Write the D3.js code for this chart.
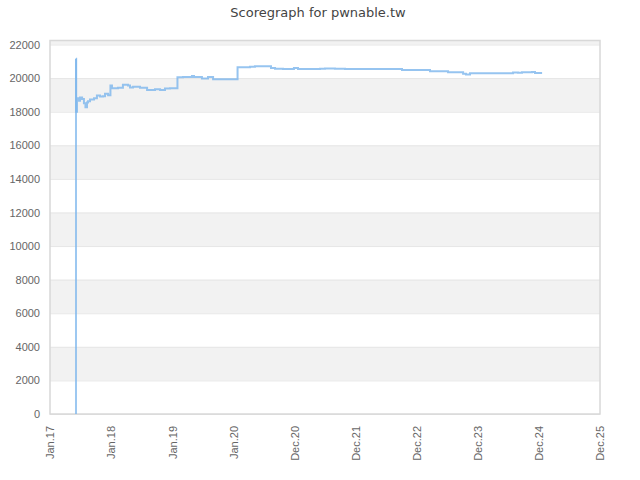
<!DOCTYPE html>
<html><head><meta charset="utf-8">
<script src="https://cdn.jsdelivr.net/npm/d3@7/dist/d3.min.js"></script>
<style>body{margin:0;background:#fff} svg{display:block;font-family:"DejaVu Sans",sans-serif}</style>
</head><body><svg id="c" width="640" height="480"></svg>
<script>
const chartTitle = "Scoregraph for pwnable.tw";
const xTickLabels = ["Jan.17","Jan.18","Jan.19","Jan.20","Dec.20","Dec.21","Dec.22","Dec.23","Dec.24","Dec.25"];
const xDomainDates = ["2017-01-10","2025-12-12"];
const yTickValues = [0,2000,4000,6000,8000,10000,12000,14000,16000,18000,20000,22000];
const yMaxValue = 22240;

const dates = ["2017-06-13","2017-06-13","2017-06-14","2017-06-19","2017-07-01","2017-07-07","2017-07-19","2017-07-30",
"2017-08-08","2017-08-17","2017-08-23","2017-09-04","2017-09-28","2017-10-15","2017-11-02","2017-11-20","2017-12-02",
"2017-12-20","2018-01-03","2018-01-12","2018-02-17","2018-03-18","2018-04-17","2018-04-29","2018-05-17","2018-06-27",
"2018-08-08","2018-09-24","2018-10-24","2018-11-22","2018-12-22","2019-02-04","2019-03-09","2019-05-01","2019-05-13",
"2019-06-29","2019-08-04","2019-09-03","2019-09-14","2020-01-26","2020-04-09","2020-05-08","2020-07-30","2020-08-11",
"2020-09-04","2020-10-21","2020-12-25","2021-01-18","2021-05-28","2021-06-27","2021-08-25","2021-10-24","2022-09-26",
"2023-03-11","2023-06-26","2023-09-23","2023-10-10","2023-11-03","2024-07-15","2024-08-13","2024-09-06","2024-11-04",
"2024-11-22","2025-01-03"];
const scores = [0,21150,18000,18800,18650,18850,18750,18500,
18270,18550,18630,18730,18800,18970,18900,18920,19070,
18980,19560,19400,19420,19600,19560,19440,19480,19420,
19300,19330,19300,19380,19400,20050,20060,20120,20060,
19980,20060,19930,19940,20650,20680,20710,20710,20600,
20560,20540,20600,20550,20560,20580,20560,20550,20480,
20410,20350,20260,20220,20290,20340,20320,20350,20370,
20300,20300];

const svg = d3.select("#c");
const W = 640, H = 480;
const m = {left: 50, right: 40, top: 40.5, bottom: 66};
const iw = W - m.left - m.right, ih = H - m.top - m.bottom;
const parse = d3.utcParse("%Y-%m-%d");

const x = d3.scaleUtc().domain(xDomainDates.map(parse)).range([0, iw]);
const y = d3.scaleLinear().domain([0, yMaxValue]).range([ih, 0]);

svg.append("text").attr("x", W/2 - 2).attr("y", 17).attr("text-anchor","middle")
  .attr("fill","#444").style("font-size","13px").text(chartTitle);

const g = svg.append("g").attr("transform", `translate(${m.left},${m.top})`);

// alternate bands
yTickValues.forEach((t,i)=>{
  if (i % 2 === 1) {
    const top = Math.min(t + 2000, yMaxValue);
    g.append("rect").attr("x",0).attr("width",iw)
      .attr("y", y(top)).attr("height", y(t) - y(top)).attr("fill","#f2f2f2");
  }
});

// y axis with gridlines
const yAxis = d3.axisLeft(y).tickValues(yTickValues).tickSize(-iw).tickPadding(10).tickFormat(d3.format("d"));
const ya = g.append("g").call(yAxis);
ya.select(".domain").remove();
ya.selectAll(".tick line").attr("stroke","#e6e6e6");
ya.selectAll(".tick text").attr("fill","#666").style("font-size","11px").attr("x",-10);

// x axis
const xd = x.domain();
const step = (xd[1] - xd[0]) / (xTickLabels.length - 1);
const xTicks = xTickLabels.map((_,i)=> new Date(+xd[0] + i*step));
const xAxis = d3.axisBottom(x).tickValues(xTicks).tickSize(0).tickFormat((d,i)=>xTickLabels[i]);
const xa = g.append("g").attr("transform",`translate(0,${ih})`).call(xAxis);
xa.select(".domain").remove();
xa.selectAll(".tick text").attr("fill","#666").style("font-size","11px")
  .attr("text-anchor","end").attr("transform","rotate(-90)")
  .attr("x",-12).attr("y",0).attr("dy","0.35em");

// plot border
g.append("rect").attr("x",0).attr("y",0).attr("width",iw).attr("height",ih)
  .attr("fill","none").attr("stroke","#d8d8d8").attr("stroke-width",1.5);

const pts = dates.map((d,i)=>({d: parse(d), v: scores[i]}));
const line = d3.line().x(p=>x(p.d)).y(p=>y(p.v)).curve(d3.curveStepAfter);
g.append("path").datum(pts.slice(0,2)).attr("d", line)
  .attr("fill","none").attr("stroke","#7cb5ec").attr("stroke-width",2).attr("stroke-opacity",0.75);
g.append("path").datum(pts.slice(1)).attr("d", line)
  .attr("fill","none").attr("stroke","#7cb5ec").attr("stroke-width",2).attr("stroke-opacity",0.8);
</script></body></html>
